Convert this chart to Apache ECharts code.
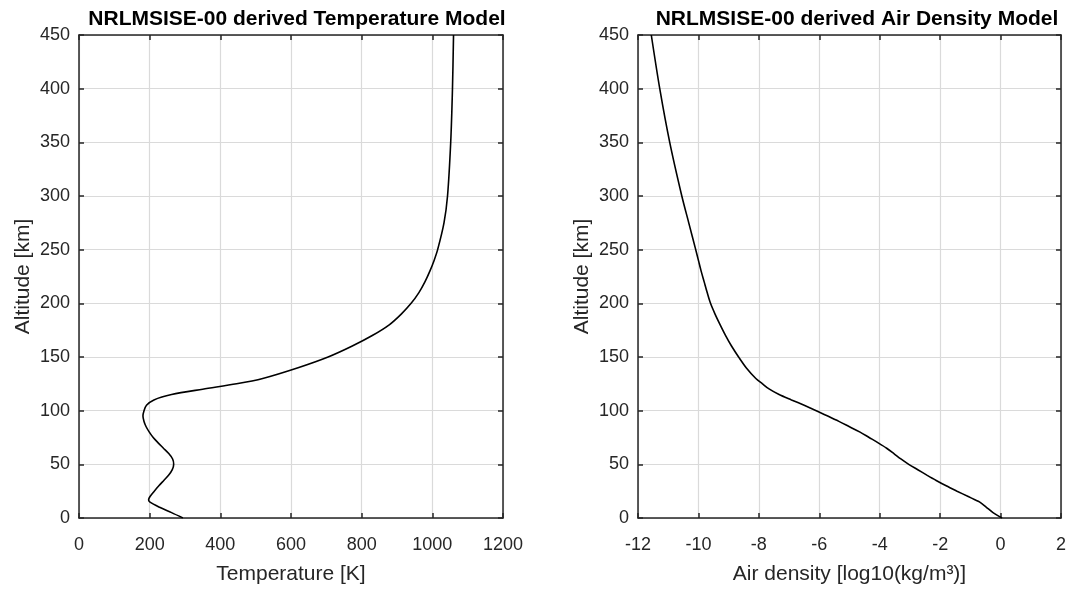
<!DOCTYPE html>
<html>
<head>
<meta charset="utf-8">
<script src="https://cdn.jsdelivr.net/npm/echarts@6/dist/echarts.min.js"></script>
<style>
  html, body { margin: 0; padding: 0; background: #fff; }
  #chart { width: 1069px; height: 590px; }
</style>
</head>
<body>
<div id="chart"></div>
<script>
// altitude samples [km], shared by both profiles
var altitudeKm = [0, 5, 10, 15, 17, 20, 25, 30, 35, 40, 45, 50, 55, 60, 65, 70, 75, 80, 85, 90,
  95, 100, 105, 110, 115, 120, 125, 130, 140, 150, 160, 170, 180, 190, 200, 210, 220, 230, 240,
  250, 275, 300, 350, 400, 450];
// temperature [K]
var temperatureK = [294, 262, 228, 200, 197, 201, 213, 226, 240, 254, 264, 268, 265, 254, 239, 224,
  210, 199, 190, 184, 181, 184, 191, 212, 262, 350, 446, 520, 620, 705, 772, 830, 878, 912, 940,
  962, 979, 993, 1005, 1015, 1033, 1043, 1052, 1057, 1060];
// air density log10(kg/m^3)
var logDensity = [0.05, -0.25, -0.47, -0.7, -0.85, -1.07, -1.44, -1.8, -2.13, -2.44, -2.74, -3.04,
  -3.3, -3.53, -3.77, -4.05, -4.35, -4.65, -5.0, -5.35, -5.72, -6.1, -6.5, -6.92, -7.33, -7.65,
  -7.88, -8.1, -8.42, -8.67, -8.9, -9.1, -9.28, -9.45, -9.6, -9.71, -9.81, -9.91, -10.0,
  -10.09, -10.32, -10.55, -10.95, -11.28, -11.56];

var tempTicks = [0, 1200, 200];
var densTicks = [-12, 2, 2];
var altTicks = [0, 450, 50];

var font = 'Liberation Sans, Arial, Helvetica, sans-serif';
var ink = '#262626';

function pairs(xs) {
  return altitudeKm.map(function (a, i) { return [xs[i], a]; });
}

// main axis with labels + a bare opposite axis, so the plot gets a closed box
function boxAxes(gridIndex, ticks, isX, name, nameGap) {
  var base = {
    type: 'value',
    gridIndex: gridIndex,
    min: ticks[0], max: ticks[1], interval: ticks[2],
    axisLine: { show: true, onZero: false, lineStyle: { color: ink, width: 1.5 } },
    axisTick: { show: true, inside: true, length: 5, lineStyle: { color: ink, width: 1.5 } }
  };
  var main = Object.assign({}, base, {
    position: isX ? 'bottom' : 'left',
    name: name,
    nameLocation: 'middle',
    nameGap: nameGap,
    nameTextStyle: { color: ink, fontSize: 21, fontFamily: font },
    axisLabel: { color: ink, fontSize: 18, fontFamily: font, margin: isX ? 18 : 9,
      formatter: function (v) { return String(v); } },
    splitLine: { show: true, lineStyle: { color: '#dadada', width: 1.2 } }
  });
  var opp = Object.assign({}, base, {
    position: isX ? 'top' : 'right',
    axisLabel: { show: false },
    splitLine: { show: false }
  });
  return [main, opp];
}

var chart = echarts.init(document.getElementById('chart'));

var xA = [].concat(
  boxAxes(0, tempTicks, true, 'Temperature [K]', 46),
  boxAxes(1, densTicks, true, 'Air density [log10(kg/m³)]', 46)
);
var yA = [].concat(
  boxAxes(0, altTicks, false, 'Altitude [km]', 45),
  boxAxes(1, altTicks, false, 'Altitude [km]', 45)
);

chart.setOption({
  backgroundColor: '#fff',
  animation: false,
  title: [
    { text: 'NRLMSISE-00 derived Temperature Model', left: 292, top: 4, textAlign: 'center',
      textStyle: { fontSize: 21, fontWeight: 'bold', color: '#000', fontFamily: font } },
    { text: 'NRLMSISE-00 derived Air Density Model', left: 852, top: 4, textAlign: 'center',
      textStyle: { fontSize: 21, fontWeight: 'bold', color: '#000', fontFamily: font } }
  ],
  grid: [
    { left: 79, right: 566, top: 35, bottom: 72 },
    { left: 638, right: 5, top: 35, bottom: 72 }
  ],
  xAxis: xA,
  yAxis: yA,
  series: [
    { type: 'line', xAxisIndex: 0, yAxisIndex: 0, data: pairs(temperatureK),
      showSymbol: false, smooth: 0.3, lineStyle: { color: '#000', width: 1.6 } },
    { type: 'line', xAxisIndex: 2, yAxisIndex: 2, data: pairs(logDensity),
      showSymbol: false, smooth: 0.3, lineStyle: { color: '#000', width: 1.6 } }
  ]
});
</script>
</body>
</html>
